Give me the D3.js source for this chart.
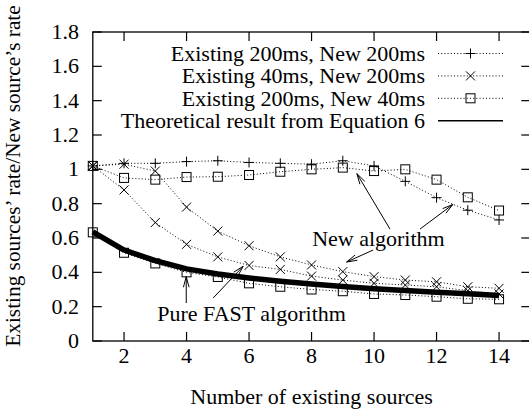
<!doctype html>
<html>
<head>
<meta charset="UTF-8">
<title>Existing vs new source rate</title>
<script src="https://d3js.org/d3.v7.min.js"></script>
<style>
  body { margin: 0; background: #fff; }
  svg text { font-family: "Liberation Serif", "DejaVu Serif", serif; font-size: 22px; fill: #000; }
</style>
</head>
<body>
<svg id="chart" width="529" height="412"></svg>
<script>
// number of existing sources
var sources = [1, 2, 3, 4, 5, 6, 7, 8, 9, 10, 11, 12, 13, 14];

// Existing 200ms, New 200ms (new algorithm)
var plus200 = [1.02, 1.035, 1.035, 1.045, 1.05, 1.04, 1.035, 1.03, 1.05, 1.02, 0.93, 0.835, 0.762, 0.705];
// Existing 40ms, New 200ms (new algorithm, pure FAST)
var cross40New = [1.02, 1.03, 0.99, 0.78, 0.64, 0.555, 0.49, 0.443, 0.404, 0.375, 0.355, 0.345, 0.316, 0.307];
var cross40Fast = [1.02, 0.88, 0.69, 0.563, 0.49, 0.44, 0.417, 0.378, 0.355, 0.336, 0.326, 0.316, 0.293, 0.274];
// Existing 200ms, New 40ms (new algorithm, pure FAST)
var square40New = [1.02, 0.95, 0.94, 0.955, 0.957, 0.967, 0.986, 1.0, 1.01, 0.99, 1.0, 0.94, 0.837, 0.76];
var square40Fast = [0.633, 0.514, 0.452, 0.40, 0.373, 0.336, 0.316, 0.3, 0.29, 0.274, 0.268, 0.258, 0.246, 0.243];
// Theoretical result from Equation 6
var theory = [0.635, 0.53, 0.468, 0.42, 0.39, 0.367, 0.348, 0.332, 0.318, 0.305, 0.294, 0.284, 0.275, 0.265];

var xTicks = [2, 4, 6, 8, 10, 12, 14];
var yTicks = [0, 0.2, 0.4, 0.6, 0.8, 1, 1.2, 1.4, 1.6, 1.8];

var legendLabels = ["Existing 200ms, New 200ms", "Existing 40ms, New 200ms",
                    "Existing 200ms, New 40ms", "Theoretical result from Equation 6"];

var svg = d3.select("#chart");
var x = d3.scaleLinear().domain([1, 15]).range([92.8, 530.3]);
var y = d3.scaleLinear().domain([0, 1.8]).range([341, 32]);

// frame
svg.append("rect")
  .attr("x", x(1)).attr("y", y(1.8))
  .attr("width", x(15) - x(1)).attr("height", y(0) - y(1.8))
  .attr("fill", "none").attr("stroke", "#000").attr("stroke-width", 1.3);

// ticks pointing inward, mirrored
var tl = 9;
xTicks.forEach(function(t) {
  svg.append("line").attr("x1", x(t)).attr("x2", x(t)).attr("y1", y(0)).attr("y2", y(0) - tl)
    .attr("stroke", "#000").attr("stroke-width", 1.2);
  svg.append("line").attr("x1", x(t)).attr("x2", x(t)).attr("y1", y(1.8)).attr("y2", y(1.8) + tl)
    .attr("stroke", "#000").attr("stroke-width", 1.2);
  svg.append("text").attr("x", x(t)).attr("y", y(0) + 22)
    .attr("text-anchor", "middle").text(t);
});
yTicks.forEach(function(t) {
  svg.append("line").attr("x1", x(1)).attr("x2", x(1) + tl).attr("y1", y(t)).attr("y2", y(t))
    .attr("stroke", "#000").attr("stroke-width", 1.2);
  svg.append("line").attr("x1", x(15)).attr("x2", x(15) - tl).attr("y1", y(t)).attr("y2", y(t))
    .attr("stroke", "#000").attr("stroke-width", 1.2);
  svg.append("text").attr("x", 79).attr("y", y(t) + 7)
    .attr("text-anchor", "end").text(d3.format("")(t));
});

// axis titles
svg.append("text").attr("x", x(8)).attr("y", 404).attr("text-anchor", "middle")
  .text("Number of existing sources");
svg.append("text").attr("transform", "translate(20,176) rotate(-90)").attr("text-anchor", "middle")
  .style("font-size", "21.3px")
  .text("Existing sources\u2019 rate/New source\u2019s rate");

// marker drawing
function marker(g, type, cx, cy) {
  if (type === "plus") {
    g.append("path").attr("d", "M" + (cx - 5) + "," + cy + "H" + (cx + 5) + "M" + cx + "," + (cy - 5) + "V" + (cy + 5))
      .attr("stroke", "#000").attr("stroke-width", 1).attr("fill", "none");
  } else if (type === "cross") {
    g.append("path").attr("d", "M" + (cx - 4.5) + "," + (cy - 4.5) + "L" + (cx + 4.5) + "," + (cy + 4.5) +
      "M" + (cx - 4.5) + "," + (cy + 4.5) + "L" + (cx + 4.5) + "," + (cy - 4.5))
      .attr("stroke", "#000").attr("stroke-width", 1).attr("fill", "none");
  } else if (type === "square") {
    g.append("rect").attr("x", cx - 4.5).attr("y", cy - 4.5).attr("width", 9).attr("height", 9)
      .attr("stroke", "#000").attr("stroke-width", 1).attr("fill", "none");
  }
}

var line = d3.line().x(function(d) { return x(d[0]); }).y(function(d) { return y(d[1]); });

function series(values, type, dotted, width) {
  var pts = sources.map(function(s, i) { return [s, values[i]]; });
  var g = svg.append("g");
  g.append("path").attr("d", line(pts)).attr("fill", "none").attr("stroke", "#000")
    .attr("stroke-width", width).attr("stroke-dasharray", dotted ? "1,2.2" : null)
    .attr("stroke-linejoin", "round");
  if (type) pts.forEach(function(p) { marker(g, type, x(p[0]), y(p[1])); });
}

series(plus200, "plus", true, 1);
series(cross40New, "cross", true, 1);
series(cross40Fast, "cross", true, 1);
series(square40New, "square", true, 1);
series(square40Fast, "square", true, 1);
series(theory, null, false, 5.5);

// legend
var legTypes = ["plus", "cross", "square", null];
legendLabels.forEach(function(lab, i) {
  var by = 61 + i * 22.4;
  svg.append("text").attr("x", 425).attr("y", by).attr("text-anchor", "end").text(lab);
  svg.append("line").attr("x1", 438).attr("x2", 503).attr("y1", by - 7.5).attr("y2", by - 7.5)
    .attr("stroke", "#000").attr("stroke-width", legTypes[i] ? 1 : 1.6)
    .attr("stroke-dasharray", legTypes[i] ? "1,2.2" : null);
  if (legTypes[i]) marker(svg, legTypes[i], 470.5, by - 7.5);
});

// annotations
var notes = [
  { text: "New algorithm", at: [10.14, 0.553] },
  { text: "Pure FAST algorithm", at: [6.08, 0.116] }
];
var arrows = [
  { from: [10.51, 0.652], to: [9.45, 0.975] },
  { from: [11.47, 0.652], to: [12.52, 0.795] },
  { from: [9.97, 0.53], to: [9.12, 0.46] },
  { from: [3.99, 0.221], to: [3.99, 0.375] },
  { from: [4.85, 0.25], to: [5.81, 0.435] }
];
notes.forEach(function(n) {
  svg.append("text").attr("x", x(n.at[0])).attr("y", y(n.at[1])).attr("text-anchor", "middle").text(n.text);
});
arrows.forEach(function(a) {
  var x1 = x(a.from[0]), y1 = y(a.from[1]), x2 = x(a.to[0]), y2 = y(a.to[1]);
  var ang = Math.atan2(y2 - y1, x2 - x1), hl = 11, ha = 0.26;
  svg.append("path")
    .attr("d", "M" + x1 + "," + y1 + "L" + x2 + "," + y2 +
      "M" + (x2 - hl * Math.cos(ang - ha)) + "," + (y2 - hl * Math.sin(ang - ha)) + "L" + x2 + "," + y2 +
      "L" + (x2 - hl * Math.cos(ang + ha)) + "," + (y2 - hl * Math.sin(ang + ha)))
    .attr("fill", "none").attr("stroke", "#000").attr("stroke-width", 1);
});
</script>
</body>
</html>
